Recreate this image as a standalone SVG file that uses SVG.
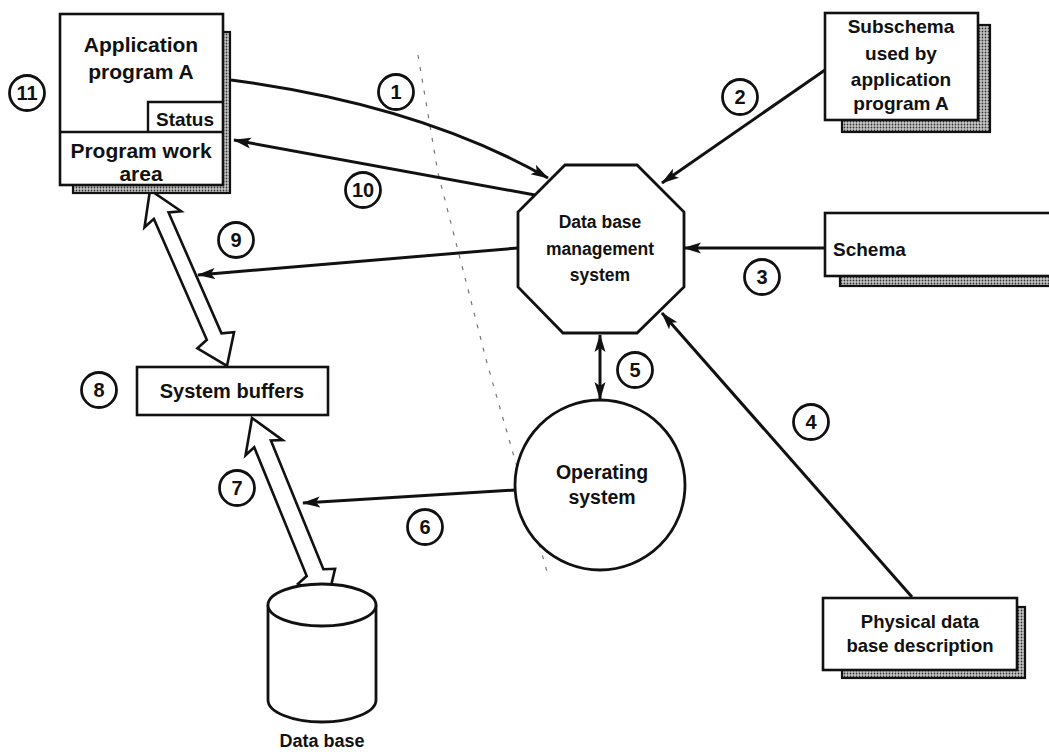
<svg xmlns="http://www.w3.org/2000/svg" width="1049" height="752" viewBox="0 0 1049 752">
  <style>
    .box { fill: #fff; stroke: #111; stroke-width: 2.6; }
    .shadow { fill: url(#stipple); stroke: #111; stroke-width: 2.2; }
    .shape { fill: #fff; stroke: #111; stroke-width: 2.8; }
    .label { font-family: "Liberation Sans", Arial, sans-serif; font-weight: bold; fill: #111; }
    .num circle { fill: #fff; stroke: #111; stroke-width: 2.8; }
    .num text { font-family: "Liberation Sans", Arial, sans-serif; font-weight: bold; font-size: 20px; fill: #111; text-anchor: middle; }
    .conn { fill: none; stroke: #111; stroke-width: 3; }
    .hollow { fill: #fff; stroke: #111; stroke-width: 2.6; stroke-linejoin: miter; }
    .fold { fill: none; stroke: #777; stroke-width: 1.2; stroke-dasharray: 4 8; }
  </style>
  <defs>
    <pattern id="stipple" width="3" height="3" patternUnits="userSpaceOnUse">
      <rect width="3" height="3" fill="#c8c8c8"/>
      <circle cx="1.5" cy="1.5" r="0.9" fill="#333"/>
    </pattern>
    <marker id="head" viewBox="0 0 18 12" refX="17" refY="6" markerWidth="18" markerHeight="12" markerUnits="userSpaceOnUse" orient="auto-start-reverse">
      <path d="M0,0.5 L18,6 L0,11.5 L4,6 z" fill="#111"/>
    </marker>
  </defs>

  <rect width="1049" height="752" fill="#fff"/>

  <!-- faint fold line running through the sheet -->
  <path class="fold" d="M418,55 L438,173 L487,363 L517,467 L548,575"/>

  <!-- connectors -->
  <g id="connectors">
    <path class="conn" d="M231,80 Q420,105 548,178" marker-end="url(#head)"/>
    <path class="conn" d="M535,195 L234,140" marker-end="url(#head)"/>
    <path class="conn" d="M518,248 L198,275" marker-end="url(#head)"/>
    <path class="conn" d="M825,70 L662,183" marker-end="url(#head)"/>
    <path class="conn" d="M825,248 L684,248" marker-end="url(#head)"/>
    <path class="conn" d="M912,597 L662,313" marker-end="url(#head)"/>
    <path class="conn" d="M600,335 L600,399" marker-start="url(#head)" marker-end="url(#head)"/>
    <path class="conn" d="M516,490 L303,503" marker-end="url(#head)"/>
    <!-- wide two-way data paths -->
    <polygon class="hollow" transform="translate(150,190) rotate(66.37)" points="0,0 32,-20 28,-8 160,-8 164,-20 192,0 164,20 160,8 28,8 32,20"/>
    <polygon class="hollow" transform="translate(252,418) rotate(67.82)" points="0,0 32,-20 28,-9 167,-9 171,-20 199,0 171,20 167,9 28,9 32,20"/>
  </g>

  <!-- application program A -->
  <g id="app-program">
    <rect class="shadow" x="73" y="32" width="157" height="161"/>
    <rect class="box" x="60" y="14" width="163" height="171"/>
    <line x1="60" y1="132" x2="223" y2="132" stroke="#111" stroke-width="2.6"/>
    <polyline points="148,132 148,102 223,102" fill="none" stroke="#111" stroke-width="2.4"/>
    <text class="label" font-size="21" x="141" y="52" text-anchor="middle">Application</text>
    <text class="label" font-size="21" x="141" y="79" text-anchor="middle">program A</text>
    <text class="label" font-size="19" x="185" y="126" text-anchor="middle">Status</text>
    <text class="label" font-size="21" x="141" y="158" text-anchor="middle">Program work</text>
    <text class="label" font-size="21" x="141" y="181" text-anchor="middle">area</text>
  </g>

  <!-- subschema -->
  <g id="subschema">
    <rect class="shadow" x="842" y="25" width="148" height="107"/>
    <rect class="box" x="825" y="13" width="153" height="107"/>
    <text class="label" font-size="19" x="901" y="33" text-anchor="middle">Subschema</text>
    <text class="label" font-size="19" x="901" y="60" text-anchor="middle">used by</text>
    <text class="label" font-size="19" x="901" y="86" text-anchor="middle">application</text>
    <text class="label" font-size="19" x="901" y="110" text-anchor="middle">program A</text>
  </g>

  <!-- schema -->
  <g id="schema">
    <rect class="shadow" x="840" y="222" width="220" height="64"/>
    <rect class="box" x="825" y="213" width="235" height="63"/>
    <text class="label" font-size="19" x="833" y="256">Schema</text>
  </g>

  <!-- physical data base description -->
  <g id="physical">
    <rect class="shadow" x="842" y="607" width="183" height="71"/>
    <rect class="box" x="823" y="598" width="194" height="72"/>
    <text class="label" font-size="18.5" x="920" y="628" text-anchor="middle">Physical data</text>
    <text class="label" font-size="18.5" x="920" y="652" text-anchor="middle">base description</text>
  </g>

  <!-- DBMS -->
  <g id="dbms">
    <polygon class="shape" points="565,165 637,165 684,212 684,287 637,333 563,333 518,287 518,212"/>
    <text class="label" font-size="17.5" x="600" y="228" text-anchor="middle">Data base</text>
    <text class="label" font-size="17.5" x="600" y="255" text-anchor="middle">management</text>
    <text class="label" font-size="17.5" x="600" y="281" text-anchor="middle">system</text>
  </g>

  <!-- operating system -->
  <g id="os">
    <circle class="shape" cx="600" cy="485" r="85"/>
    <text class="label" font-size="19.5" x="602" y="479" text-anchor="middle">Operating</text>
    <text class="label" font-size="19.5" x="602" y="504" text-anchor="middle">system</text>
  </g>

  <!-- system buffers -->
  <g id="buffers">
    <rect class="box" x="137" y="367" width="191" height="48"/>
    <text class="label" font-size="20" x="232" y="398" text-anchor="middle">System buffers</text>
  </g>

  <!-- data base -->
  <g id="database">
    <path class="shape" d="M268,605 L268,700 A54,22 0 0 0 376,700 L376,605"/>
    <ellipse class="shape" cx="322" cy="605" rx="54" ry="21"/>
    <text class="label" font-size="18" x="322" y="747" text-anchor="middle">Data base</text>
  </g>

  <!-- step numbers -->
  <g id="step-1" class="num"><circle cx="396" cy="92" r="17.5"/><text x="396" y="99">1</text></g>
  <g id="step-2" class="num"><circle cx="740" cy="97" r="17.5"/><text x="740" y="104">2</text></g>
  <g id="step-3" class="num"><circle cx="762" cy="277" r="17.5"/><text x="762" y="284">3</text></g>
  <g id="step-4" class="num"><circle cx="811" cy="422" r="17.5"/><text x="811" y="429">4</text></g>
  <g id="step-5" class="num"><circle cx="635" cy="370" r="17.5"/><text x="635" y="377">5</text></g>
  <g id="step-6" class="num"><circle cx="425" cy="527" r="17.5"/><text x="425" y="534">6</text></g>
  <g id="step-7" class="num"><circle cx="237" cy="488" r="17.5"/><text x="237" y="495">7</text></g>
  <g id="step-8" class="num"><circle cx="99" cy="390" r="17.5"/><text x="99" y="397">8</text></g>
  <g id="step-9" class="num"><circle cx="236" cy="240" r="17.5"/><text x="236" y="247">9</text></g>
  <g id="step-10" class="num"><circle cx="363" cy="190" r="17.5"/><text x="363" y="197">10</text></g>
  <g id="step-11" class="num"><circle cx="27" cy="93" r="17.5"/><text x="27" y="100">11</text></g>
</svg>
